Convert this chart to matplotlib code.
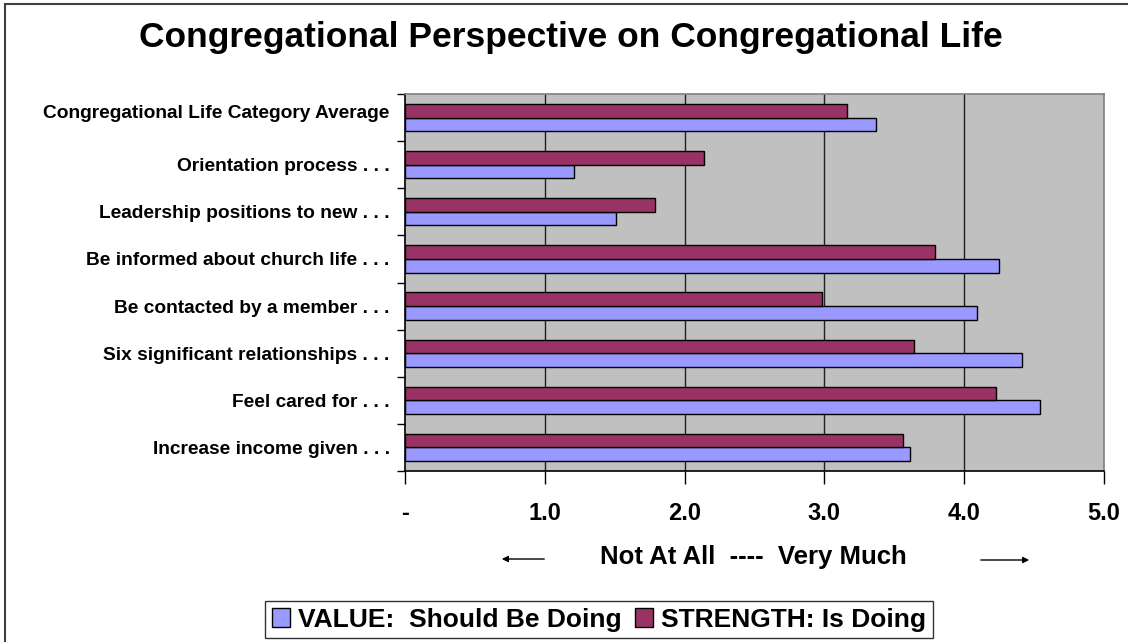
import matplotlib.pyplot as plt
import matplotlib.transforms as mtransforms
from matplotlib.patches import Rectangle, Patch, FancyArrowPatch

plt.rcParams['font.family'] = ['Liberation Sans', 'DejaVu Sans']
plt.rcParams['font.weight'] = 'bold'

# Categories, bottom to top as drawn
categories = ['Increase income given . . .',
              'Feel cared for . . .',
              'Six significant relationships . . .',
              'Be contacted by a member . . .',
              'Be informed about church life . . .',
              'Leadership positions to new . . .',
              'Orientation process . . .',
              'Congregational Life Category Average']
value_scores = [3.61, 4.54, 4.41, 4.09, 4.25, 1.51, 1.21, 3.37]
strength_scores = [3.56, 4.23, 3.64, 2.98, 3.79, 1.79, 2.14, 3.16]
x_ticks = [0, 1, 2, 3, 4, 5]
x_tick_labels = ['-', '1.0', '2.0', '3.0', '4.0', '5.0']

value_color = '#9999FF'
strength_color = '#993366'

fig = plt.figure(figsize=(11.28, 6.42), dpi=100)
ax = fig.add_axes([405 / 1128, 1 - 471 / 642, 699 / 1128, 377 / 642])
ax.set_facecolor('#C0C0C0')

h = 0.29
pos = list(range(len(categories)))
ax.barh([p - h / 2 for p in pos], value_scores, height=h, color=value_color,
        edgecolor='black', linewidth=1, zorder=3)
ax.barh([p + h / 2 for p in pos], strength_scores, height=h, color=strength_color,
        edgecolor='black', linewidth=1, zorder=3)

ax.set_xlim(0, 5)
ax.set_ylim(-0.5, len(categories) - 0.5)

# vertical gridlines
for x in x_ticks[1:-1]:
    ax.axvline(x, color='#202020', linewidth=1, zorder=1)

ax.set_xticks(x_ticks)
ax.set_xticklabels(x_tick_labels, fontsize=17, fontweight='bold')
ax.tick_params(axis='x', direction='out', length=9, width=1, pad=13, color='black')

# category ticks at the boundaries, labels at centers
ax.set_yticks([p - 0.5 for p in pos] + [len(categories) - 0.5])
ax.set_yticklabels([])
ax.tick_params(axis='y', which='major', direction='out', length=6, width=1, color='black')
ax.set_yticks(pos, minor=True)
ax.set_yticklabels(categories, minor=True, fontsize=13.8, fontweight='bold')
ax.tick_params(axis='y', which='minor', length=0, pad=11)

# the long top label sits a little higher in the original
top_label = ax.get_yticklabels(minor=True)[-1]
top_label.set_transform(top_label.get_transform() +
                        mtransforms.ScaledTranslation(0, 6 / 100, fig.dpi_scale_trans))

ax.spines['left'].set_color('black')
ax.spines['bottom'].set_color('black')
ax.spines['top'].set_color('#808080')
ax.spines['right'].set_color('#808080')
for s in ax.spines.values():
    s.set_linewidth(1.2)

fig.text(571 / 1128, 1 - 37 / 642, 'Congregational Perspective on Congregational Life',
         ha='center', va='center', fontsize=25.5, fontweight='bold')

fig.text(753 / 1128, 1 - 557 / 642, 'Not At All  ----  Very Much',
         ha='center', va='center', fontsize=18.5, fontweight='bold')

# arrows beside the axis label
fig.patches.append(FancyArrowPatch(
    (547 / 1128, 1 - 559 / 642), (499 / 1128, 1 - 559 / 642),
    transform=fig.transFigure, arrowstyle='-|>', mutation_scale=9,
    color='black', linewidth=1))
fig.patches.append(FancyArrowPatch(
    (978 / 1128, 1 - 560 / 642), (1032 / 1128, 1 - 560 / 642),
    transform=fig.transFigure, arrowstyle='-|>', mutation_scale=9,
    color='black', linewidth=1))

handles = [Patch(facecolor=value_color, edgecolor='black', linewidth=1),
           Patch(facecolor=strength_color, edgecolor='black', linewidth=1)]
leg = fig.legend(handles, ['VALUE:  Should Be Doing', 'STRENGTH: Is Doing'],
                 loc='center', bbox_to_anchor=(599 / 1128, 1 - 619.5 / 642),
                 ncol=2, prop={'weight': 'bold', 'size': 19},
                 frameon=True, fancybox=False, handlelength=0.7, handleheight=0.7,
                 handletextpad=0.3, columnspacing=0.5, borderpad=0.25)
leg.get_frame().set_edgecolor('black')
leg.get_frame().set_linewidth(1)

# outer chart border
fig.patches.append(Rectangle((5 / 1128, -0.1), 1.2, 1 - 4 / 642 + 0.1,
                             transform=fig.transFigure, fill=False,
                             edgecolor='#404040', linewidth=1.5))

fig.savefig('out.png', dpi=100)
